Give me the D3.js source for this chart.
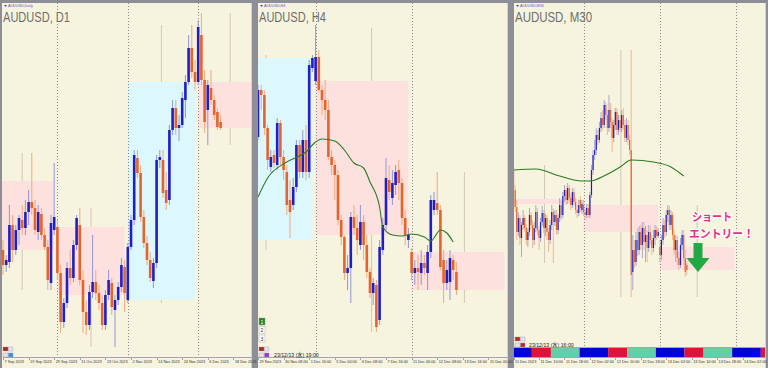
<!DOCTYPE html>
<meta charset="utf-8">
<script src="https://d3js.org/d3.v7.min.js"></script>
<style>
  body { margin: 0; background: #8e8e98; }
  svg { display: block; }
  .axis text { font-family: "Liberation Sans", Arial, sans-serif; font-size: 3.8px; fill: #333; }
  .axis path, .axis line { stroke: #a4a4b0; shape-rendering: crispEdges; }
</style>
<div id="chart"></div>
<script>

// ---------------- data (AUDUSD prices) ----------------

// D1 candles, bar 0 = 7 Sep 2023, [open, high, low, close]
var d1Candles = [
  [0.6470,0.6480,0.6445,0.6455],[0.6455,0.6465,0.6448,0.6460],[0.6458,0.6515,0.6452,0.6495],[0.6495,0.6505,0.6458,0.6470],
  [0.6470,0.6495,0.6465,0.6490],[0.6490,0.6505,0.6475,0.6502],[0.6500,0.6515,0.6485,0.6492],[0.6492,0.6520,0.6485,0.6508],
  [0.6508,0.6530,0.6495,0.6518],[0.6518,0.6567,0.6505,0.6512],[0.6512,0.6520,0.6485,0.6490],[0.6488,0.6515,0.6480,0.6508],
  [0.6506,0.6512,0.6480,0.6485],[0.6485,0.6492,0.6470,0.6473],[0.6473,0.6480,0.6430,0.6440],[0.6437,0.6505,0.6430,0.6497],
  [0.6490,0.6557,0.6485,0.6503],[0.6493,0.6500,0.6440,0.6447],[0.6447,0.6455,0.6387,0.6398],[0.6398,0.6422,0.6392,0.6417],
  [0.6417,0.6458,0.6412,0.6452],[0.6452,0.6470,0.6435,0.6442],[0.6442,0.6480,0.6438,0.6475],[0.6475,0.6505,0.6470,0.6502],
  [0.6495,0.6512,0.6435,0.6440],[0.6440,0.6450,0.6387,0.6408],[0.6408,0.6420,0.6385,0.6395],[0.6395,0.6435,0.6390,0.6428],
  [0.6428,0.6485,0.6422,0.6438],[0.6438,0.6450,0.6420,0.6427],[0.6427,0.6435,0.6410,0.6417],[0.6417,0.6425,0.6390,0.6395],
  [0.6395,0.6430,0.6390,0.6425],[0.6425,0.6450,0.6420,0.6440],[0.6437,0.6442,0.6405,0.6413],[0.6410,0.6425,0.6373,0.6420],
  [0.6420,0.6438,0.6415,0.6433],[0.6433,0.6462,0.6428,0.6455],[0.6453,0.6460,0.6408,0.6427],[0.6420,0.6477,0.6417,0.6473],
  [0.6473,0.6505,0.6470,0.6500],[0.6500,0.6570,0.6495,0.6565],[0.6562,0.6570,0.6542,0.6547],[0.6547,0.6555,0.6498,0.6503],
  [0.6503,0.6510,0.6472,0.6477],[0.6477,0.6484,0.6455,0.6460],[0.6460,0.6468,0.6438,0.6442],[0.6439,0.6462,0.6432,0.6457],
  [0.6457,0.6565,0.6452,0.6560],[0.6560,0.6570,0.6552,0.6563],[0.6560,0.6570,0.6522,0.6527],[0.6530,0.6548,0.6510,0.6517],
  [0.6520,0.6595,0.6515,0.6590],[0.6590,0.6620,0.6585,0.6612],[0.6612,0.6620,0.6585,0.6592],[0.6592,0.6605,0.6579,0.6595],
  [0.6595,0.6628,0.6592,0.6622],[0.6620,0.6645,0.6602,0.6638],[0.6638,0.6685,0.6635,0.6672],[0.6672,0.6695,0.6642,0.6648],
  [0.6648,0.6660,0.6630,0.6638],[0.6638,0.6700,0.6635,0.6693],[0.6685,0.6707,0.6635,0.6640],[0.6640,0.6650,0.6587,0.6598],
  [0.6610,0.6640,0.6575,0.6635],[0.6632,0.6650,0.6615,0.6620],[0.6620,0.6625,0.6600,0.6605],[0.6608,0.6612,0.6590,0.6593],
  [0.6598,0.6605,0.6590,0.6592]
];
var d1LabelBars = [0, 8, 16, 24, 32, 40, 48, 56, 64, 72];
var d1Labels = ["7 Sep 2023", "19 Sep 2023", "29 Sep 2023", "11 Oct 2023", "23 Oct 2023",
                "2 Nov 2023", "14 Nov 2023", "24 Nov 2023", "6 Dec 2023", "18 Dec 2023"];
var d1Separators = [17, 39, 61];
// monthly candles: [firstBar, lastBar, midBar, open, high, low, close]
var d1Boxes = [
  [-4, 16, 6, 0.6539, 0.6567, 0.6430, 0.6470],
  [17, 38, 27.5, 0.6493, 0.6512, 0.6373, 0.6425],
  [39, 60, 49.5, 0.6420, 0.6695, 0.6417, 0.6638],
  [61, 81, 71, 0.6638, 0.6707, 0.6575, 0.6592]
];

// H4 candles, bar 0 = 29 Nov 00:00
var h4Candles = [
  [0.6583,0.6635,0.6580,0.6630],[0.6630,0.6635,0.6610,0.6625],[0.6625,0.6630,0.6585,0.6592],[0.6592,0.6595,0.6550,0.6560],
  [0.6553,0.6570,0.6548,0.6563],[0.6565,0.6570,0.6552,0.6557],[0.6555,0.6602,0.6550,0.6597],[0.6597,0.6600,0.6555,0.6563],
  [0.6563,0.6570,0.6540,0.6550],[0.6548,0.6555,0.6505,0.6515],[0.6520,0.6540,0.6482,0.6508],[0.6515,0.6542,0.6510,0.6533],
  [0.6533,0.6580,0.6528,0.6575],[0.6575,0.6580,0.6542,0.6548],[0.6548,0.6590,0.6542,0.6580],[0.6580,0.6595,0.6540,0.6548],
  [0.6548,0.6660,0.6542,0.6655],[0.6652,0.6665,0.6648,0.6662],[0.6639,0.6695,0.6635,0.6663],[0.6663,0.6670,0.6628,0.6630],
  [0.6630,0.6635,0.6605,0.6620],[0.6620,0.6640,0.6600,0.6610],[0.6610,0.6620,0.6560,0.6563],[0.6563,0.6570,0.6545,0.6555],
  [0.6555,0.6560,0.6520,0.6545],[0.6545,0.6550,0.6495,0.6500],[0.6500,0.6505,0.6475,0.6483],[0.6483,0.6485,0.6440,0.6447],
  [0.6447,0.6465,0.6430,0.6452],[0.6452,0.6508,0.6417,0.6503],[0.6503,0.6515,0.6485,0.6492],[0.6492,0.6505,0.6465,0.6480],
  [0.6475,0.6515,0.6470,0.6498],[0.6498,0.6505,0.6460,0.6475],[0.6475,0.6485,0.6442,0.6448],[0.6448,0.6452,0.6422,0.6427],
  [0.6427,0.6442,0.6415,0.6437],[0.6435,0.6440,0.6388,0.6393],[0.6400,0.6480,0.6395,0.6473],[0.6470,0.6502,0.6465,0.6495],
  [0.6495,0.6562,0.6490,0.6542],[0.6540,0.6555,0.6520,0.6528],[0.6522,0.6550,0.6515,0.6537],[0.6535,0.6555,0.6525,0.6548],
  [0.6550,0.6560,0.6520,0.6537],[0.6537,0.6542,0.6495,0.6502],[0.6502,0.6510,0.6475,0.6485],[0.6480,0.6492,0.6472,0.6485],
  [0.6468,0.6472,0.6440,0.6447],[0.6447,0.6460,0.6435,0.6452],[0.6452,0.6465,0.6430,0.6448],[0.6447,0.6470,0.6435,0.6457],
  [0.6457,0.6465,0.6445,0.6452],[0.6447,0.6475,0.6430,0.6468],[0.6468,0.6525,0.6462,0.6520],[0.6510,0.6528,0.6505,0.6520],
  [0.6517,0.6548,0.6505,0.6510],[0.6510,0.6515,0.6450,0.6453],[0.6460,0.6470,0.6417,0.6437],[0.6437,0.6460,0.6430,0.6450],
  [0.6438,0.6470,0.6420,0.6462],[0.6460,0.6465,0.6440,0.6450],[0.6448,0.6458,0.6425,0.6430]
];
var h4LabelBars = [0, 8, 16, 24, 32, 40, 48, 56, 64, 72];
var h4Labels = ["29 Nov 2023", "30 Nov 08:00", "1 Dec 16:00", "5 Dec 00:00", "6 Dec 08:00",
                "7 Dec 16:00", "11 Dec 00:00", "12 Dec 08:00", "13 Dec 16:00", "15 Dec 00:00"];
var h4Separators = [18, 48];
// weekly candles
var h4Boxes = [
  [-12, 17, 2.5, 0.6480, 0.6665, 0.6470, 0.6662],
  [18, 47, 35.5, 0.6639, 0.6692, 0.6388, 0.6485],
  [48, 77, 64.5, 0.6468, 0.6548, 0.6417, 0.6430]
];
var h4MaBars = [0, 3, 9, 15, 18, 20, 24, 27, 30, 33, 35, 38, 39, 42, 45, 48, 52, 54, 57, 59, 61];
var h4MaValues = [0.6523, 0.6542, 0.6558, 0.6568, 0.6578, 0.6581, 0.6579, 0.6570, 0.6557, 0.6552, 0.6538,
                  0.6513, 0.6493, 0.6485, 0.6484, 0.6486, 0.6483, 0.6479, 0.6490, 0.6487, 0.6478];

// M30 candles, bar 0 = 11 Dec 00:00, first drawn bar = 02:00
var m30FirstBar = 4;
var m30Candles = [
  [0.6552,0.6555,0.6525,0.6530],[0.6530,0.6535,0.6508,0.6513],[0.6513,0.6520,0.6480,0.6488],[0.6488,0.6508,0.6484,0.6502],
  [0.6502,0.6505,0.6475,0.6482],[0.6482,0.6498,0.6463,0.6495],[0.6495,0.6510,0.6490,0.6502],[0.6502,0.6505,0.6488,0.6492],
  [0.6492,0.6496,0.6475,0.6480],[0.6480,0.6492,0.6473,0.6488],[0.6488,0.6512,0.6484,0.6505],[0.6505,0.6508,0.6490,0.6495],
  [0.6495,0.6500,0.6472,0.6480],[0.6480,0.6498,0.6475,0.6492],[0.6492,0.6515,0.6488,0.6508],[0.6508,0.6512,0.6485,0.6490],
  [0.6490,0.6494,0.6470,0.6482],[0.6482,0.6502,0.6478,0.6498],[0.6498,0.6514,0.6494,0.6507],[0.6507,0.6510,0.6487,0.6492],
  [0.6492,0.6506,0.6484,0.6502],[0.6502,0.6505,0.6480,0.6488],[0.6488,0.6492,0.6468,0.6480],[0.6480,0.6500,0.6476,0.6495],
  [0.6495,0.6515,0.6490,0.6508],[0.6508,0.6512,0.6457,0.6498],[0.6498,0.6510,0.6494,0.6505],[0.6505,0.6510,0.6485,0.6490],
  [0.6490,0.6506,0.6486,0.6502],[0.6502,0.6522,0.6498,0.6515],[0.6515,0.6520,0.6500,0.6505],[0.6505,0.6528,0.6502,0.6524],
  [0.6524,0.6535,0.6518,0.6530],[0.6530,0.6534,0.6515,0.6520],[0.6520,0.6537,0.6516,0.6532],[0.6532,0.6535,0.6518,0.6522],
  [0.6522,0.6526,0.6510,0.6515],[0.6515,0.6532,0.6512,0.6528],[0.6528,0.6532,0.6514,0.6518],[0.6518,0.6522,0.6506,0.6510],
  [0.6510,0.6515,0.6502,0.6507],[0.6507,0.6520,0.6504,0.6515],[0.6520,0.6524,0.6508,0.6512],[0.6510,0.6520,0.6506,0.6516],
  [0.6515,0.6520,0.6504,0.6508],[0.6508,0.6512,0.6500,0.6505],[0.6505,0.6516,0.6502,0.6512],[0.6512,0.6516,0.6502,0.6505],
  [0.6505,0.6528,0.6502,0.6525],[0.6525,0.6555,0.6522,0.6550],[0.6550,0.6570,0.6545,0.6565],[0.6565,0.6580,0.6560,0.6570],
  [0.6570,0.6592,0.6565,0.6585],[0.6585,0.6590,0.6575,0.6580],[0.6580,0.6598,0.6577,0.6592],[0.6592,0.6608,0.6588,0.6602],
  [0.6602,0.6610,0.6590,0.6595],[0.6595,0.6620,0.6592,0.6615],[0.6615,0.6618,0.6600,0.6605],[0.6605,0.6610,0.6585,0.6592],
  [0.6592,0.6625,0.6588,0.6610],[0.6610,0.6617,0.6592,0.6598],[0.6598,0.6602,0.6568,0.6582],[0.6582,0.6600,0.6578,0.6595],
  [0.6595,0.6612,0.6590,0.6608],[0.6608,0.6612,0.6585,0.6590],[0.6590,0.6605,0.6585,0.6600],[0.6600,0.6605,0.6588,0.6592],
  [0.6592,0.6610,0.6588,0.6605],[0.6605,0.6612,0.6590,0.6595],[0.6595,0.6600,0.6578,0.6582],[0.6582,0.6602,0.6578,0.6595],
  [0.6595,0.6600,0.6575,0.6580],[0.6580,0.6585,0.6565,0.6570],[0.6570,0.6670,0.6423,0.6445],[0.6448,0.6485,0.6430,0.6470],
  [0.6470,0.6480,0.6452,0.6458],[0.6458,0.6488,0.6454,0.6480],[0.6480,0.6492,0.6464,0.6470],[0.6470,0.6494,0.6465,0.6488],
  [0.6488,0.6495,0.6470,0.6475],[0.6475,0.6498,0.6462,0.6492],[0.6492,0.6498,0.6470,0.6478],[0.6478,0.6494,0.6458,0.6485],
  [0.6485,0.6490,0.6458,0.6472],[0.6472,0.6495,0.6468,0.6488],[0.6488,0.6494,0.6475,0.6480],[0.6480,0.6485,0.6465,0.6472],
  [0.6472,0.6490,0.6468,0.6482],[0.6482,0.6495,0.6475,0.6490],[0.6490,0.6494,0.6480,0.6484],[0.6484,0.6492,0.6482,0.6488],
  [0.6473,0.6480,0.6458,0.6465],[0.6465,0.6485,0.6460,0.6480],[0.6480,0.6502,0.6475,0.6495],[0.6495,0.6500,0.6482,0.6488],
  [0.6488,0.6510,0.6484,0.6505],[0.6505,0.6515,0.6498,0.6510],[0.6510,0.6514,0.6490,0.6495],[0.6495,0.6510,0.6490,0.6505],
  [0.6505,0.6508,0.6480,0.6485],[0.6485,0.6490,0.6465,0.6470],[0.6470,0.6485,0.6458,0.6480],[0.6480,0.6484,0.6455,0.6462],
  [0.6462,0.6468,0.6450,0.6455],[0.6455,0.6482,0.6452,0.6475],[0.6475,0.6490,0.6470,0.6485],[0.6485,0.6490,0.6455,0.6462],
  [0.6462,0.6470,0.6443,0.6448],[0.6455,0.6458,0.6445,0.6450]
];
var m30LabelBars = [4, 20, 36, 52, 68, 84, 100, 116, 132, 148];
var m30Labels = ["11 Dec 2023", "11 Dec 10:00", "11 Dec 18:00", "12 Dec 02:00", "12 Dec 10:00",
                 "12 Dec 18:00", "13 Dec 02:00", "13 Dec 10:00", "13 Dec 18:00", "14 Dec 02:00"];
var m30Separators = [48, 96, 144];
// daily candles
var m30Boxes = [
  [0, 47, 23.5, 0.6521, 0.6555, 0.6457, 0.6516],
  [48, 95, 71.5, 0.6515, 0.6670, 0.6423, 0.6488],
  [96, 143, 119.5, 0.6473, 0.6515, 0.6423, 0.6450]
];
var m30MaBars = [4, 18, 33, 47, 52, 62, 71, 78, 92, 103, 111];
var m30MaValues = [0.6550, 0.6551, 0.6544, 0.6539, 0.6539, 0.6545, 0.6553, 0.6560, 0.6558, 0.6553, 0.6544];

// market sessions (server hours) for each day start bar
var sessionDays = [0, 48, 96, 144];
var sessionNames = ["Tokyo", "London", "NewYork"];
var sessionHours = [[-1, 8], [8, 14], [14, 23]];

// annotation
var entryNote = { bar: 120, top: 0.6477, tip: 0.6448, lines: ["ショート", "エントリー！"] };

// ---------------- drawing ----------------

var width = 768, height = 368, plotTop = 3, axisY = 357;
var upBody = "#1f1fc8", downBody = "#e6632b", upWick = "#9494d6", downWick = "#f0a97c";
var sessionColors = ["#0000dd", "#dc143c", "#66cdaa"];

var svg = d3.select("#chart").append("svg")
  .attr("width", width)
  .attr("height", height);

svg.append("rect")
  .attr("width", width).attr("height", height)
  .attr("fill", "#8e8e98");

var y = d3.scaleLinear().domain([0.6352, 0.6720]).range([height, 0]);

var panels = [
  { name: "d1", left: 2, right: 252, x0: 3, step: 3.2, first: 0, bodyW: 2.6,
    candles: d1Candles, boxes: d1Boxes, seps: d1Separators, labelBars: d1LabelBars, labels: d1Labels,
    header: "AUDUSD,Daily", title: "AUDUSD, D1", titleW: 67 },
  { name: "h4", left: 258, right: 508, x0: 258, step: 3.2, first: 0, bodyW: 2.6,
    candles: h4Candles, boxes: h4Boxes, seps: h4Separators, labelBars: h4LabelBars, labels: h4Labels,
    maBars: h4MaBars, maValues: h4MaValues,
    header: "AUDUSD,H4", title: "AUDUSD, H4", titleW: 67, stamp: "23/12/13 (水) 19:00" },
  { name: "m30", left: 514, right: 766, x0: 507.2, step: 1.59, first: m30FirstBar, bodyW: 1.2,
    candles: m30Candles, boxes: m30Boxes, seps: m30Separators, labelBars: m30LabelBars, labels: m30Labels,
    maBars: m30MaBars, maValues: m30MaValues,
    header: "AUDUSD,M30", title: "AUDUSD, M30", titleW: 77, stamp: "23/12/13 (水) 16:00" }
];

panels.forEach(drawPanel);

function drawPanel(p) {
  var x = d3.scaleLinear()
    .domain([(p.left - p.x0) / p.step, (p.right - p.x0) / p.step])
    .range([p.left, p.right]);
  p.x = x;

  var g = svg.append("g");
  g.append("rect")
    .attr("x", p.left).attr("y", plotTop)
    .attr("width", p.right - p.left).attr("height", height - plotTop)
    .attr("fill", "#f6f4de");
  g.append("line")
    .attr("x1", p.right - 0.5).attr("x2", p.right - 0.5)
    .attr("y1", plotTop).attr("y2", height)
    .attr("stroke", "#d2d2de");

  svg.append("clipPath").attr("id", "clip-" + p.name)
    .append("rect")
    .attr("x", p.left).attr("y", plotTop)
    .attr("width", p.right - p.left - 1).attr("height", axisY - plotTop);
  var plot = g.append("g").attr("clip-path", "url(#clip-" + p.name + ")");

  // period high-low line, then period open-close box
  plot.selectAll(".pwick").data(p.boxes).enter().append("line")
    .attr("x1", function(d) { return x(d[2]); })
    .attr("x2", function(d) { return x(d[2]); })
    .attr("y1", function(d) { return y(d[4]); })
    .attr("y2", function(d) { return y(d[5]); })
    .attr("stroke", "#cfc7b8")
    .attr("stroke-width", 1);
  plot.selectAll(".pbox").data(p.boxes).enter().append("rect")
    .attr("x", function(d) { return x(d[0]); })
    .attr("width", function(d) { return x(d[1]) - x(d[0]); })
    .attr("y", function(d) { return y(Math.max(d[3], d[6])); })
    .attr("height", function(d) { return Math.abs(y(d[3]) - y(d[6])); })
    .attr("fill", function(d) { return d[6] > d[3] ? "#dcf8fc" : "#fde1de"; });

  // period separators
  plot.selectAll(".sep").data(p.seps).enter().append("line")
    .attr("x1", function(d) { return Math.round(x(d)) + 0.5; })
    .attr("x2", function(d) { return Math.round(x(d)) + 0.5; })
    .attr("y1", plotTop).attr("y2", axisY)
    .attr("stroke", "#8c8c8c")
    .attr("stroke-dasharray", "1,2");

  // candles
  var bars = plot.selectAll(".bar").data(p.candles).enter().append("g");
  bars.append("line")
    .attr("x1", function(d, i) { return x(p.first + i); })
    .attr("x2", function(d, i) { return x(p.first + i); })
    .attr("y1", function(d) { return y(d[1]); })
    .attr("y2", function(d) { return y(d[2]); })
    .attr("stroke", function(d) { return d[3] >= d[0] ? upWick : downWick; })
    .attr("stroke-width", p.bodyW > 2 ? 1 : 0.8);
  bars.append("rect")
    .attr("x", function(d, i) { return x(p.first + i) - p.bodyW / 2; })
    .attr("width", p.bodyW)
    .attr("y", function(d) { return y(Math.max(d[0], d[3])); })
    .attr("height", function(d) { return Math.max(1, Math.abs(y(d[0]) - y(d[3]))); })
    .attr("fill", function(d) { return d[3] >= d[0] ? upBody : downBody; });

  // moving average
  if (p.maBars) {
    var maLine = d3.line()
      .x(function(d) { return x(d[0]); })
      .y(function(d) { return y(d[1]); })
      .curve(d3.curveMonotoneX);
    plot.append("path")
      .datum(d3.zip(p.maBars, p.maValues))
      .attr("d", maLine)
      .attr("fill", "none")
      .attr("stroke", "#2b7a22")
      .attr("stroke-width", 1.1);
  }

  // time axis
  var axis = g.append("g")
    .attr("class", "axis")
    .attr("transform", "translate(0," + axisY + ")")
    .call(d3.axisBottom(x)
      .tickValues(p.labelBars)
      .tickFormat(function(d, i) { return p.labels[i]; })
      .tickSize(2.5)
      .tickSizeOuter(0));
  axis.selectAll("text")
    .attr("text-anchor", "start")
    .attr("x", 1)
    .attr("y", 3.2)
    .attr("dy", "0.71em");

  // titles
  g.append("path")
    .attr("d", "M" + (p.left + 2) + ",5 h3 l-1.5,2 z")
    .attr("fill", "#4a4ab0");
  g.append("text")
    .attr("x", p.left + 6).attr("y", 7.3)
    .style("font-family", "Liberation Sans, Arial, sans-serif")
    .style("font-size", "3.7px")
    .style("fill", "#5555bb")
    .text(p.header);
  g.append("text")
    .attr("x", p.left + 1).attr("y", 21.7)
    .attr("textLength", p.titleW)
    .attr("lengthAdjust", "spacingAndGlyphs")
    .style("font-family", "Liberation Sans Narrow, Liberation Sans, Arial, sans-serif")
    .style("font-size", "15px")
    .style("fill", "#6e6e6e")
    .text(p.title);
}

// ---- small terminal buttons ----
function button(px, py, w, h, fill, label, txt) {
  svg.append("rect").attr("x", px).attr("y", py).attr("width", w).attr("height", h)
    .attr("fill", fill).attr("stroke", "#9a9aa8").attr("stroke-width", 0.4);
  if (label) {
    svg.append("text").attr("x", px + w / 2).attr("y", py + h - 1.4)
      .attr("text-anchor", "middle")
      .style("font-family", "Liberation Sans, Arial, sans-serif")
      .style("font-size", "5px").style("fill", txt || "#333").text(label);
  }
}
// D1
button(3, 347, 5, 4, "#a82828"); button(8.5, 347, 4.5, 4, "#e4e4e8");
button(3, 353, 5, 4, "#e4e4e8"); button(8.5, 353, 4.5, 4, "#3c8ee4");
// H4
button(259, 318, 6, 7, "#1f8a2a", "1", "#fff");
button(259, 326.5, 6, 7, "#ffffff", "2");
button(259, 335, 6, 7, "#ffffff", "3");
button(259, 347, 5, 4, "#a82828"); button(264.5, 347, 4.5, 4, "#e4e4e8");
button(259, 353, 5, 4, "#e4e4e8"); button(264.5, 353, 4.5, 4, "#9a2ee0");
// M30
button(515, 337, 5, 4, "#c02828"); button(520.5, 337, 4.5, 4, "#e4e4e8");
button(515, 343, 5, 4, "#e4e4e8"); button(520.5, 343, 4.5, 4, "#c02828");

// time stamps
svg.append("text").attr("x", 274).attr("y", 356.8)
  .style("font-family", "Liberation Sans, Noto Sans CJK JP, sans-serif")
  .style("font-size", "5.2px").style("fill", "#222")
  .text(panels[1].stamp);
svg.append("text").attr("x", 529).attr("y", 347)
  .style("font-family", "Liberation Sans, Noto Sans CJK JP, sans-serif")
  .style("font-size", "5.2px").style("fill", "#222")
  .text(panels[2].stamp);

// ---- session bar on M30 ----
var m30 = panels[2];
var sessionCells = [];
sessionDays.forEach(function(day) {
  sessionHours.forEach(function(h, k) {
    sessionCells.push({ from: day + h[0] * 2 - 0.5, to: day + h[1] * 2 - 0.5, k: k });
  });
});
svg.append("g")
  .attr("clip-path", "url(#clip-m30)")
  .selectAll("rect").data(sessionCells).enter().append("rect")
  .attr("x", function(d) { return m30.x(d.from); })
  .attr("width", function(d) { return m30.x(d.to) - m30.x(d.from); })
  .attr("y", 348).attr("height", 9)
  .attr("fill", function(d) { return sessionColors[d.k]; });
svg.append("line")
  .attr("x1", m30.left).attr("x2", m30.right - 1)
  .attr("y1", 347.5).attr("y2", 347.5)
  .attr("stroke", "#7b8fe0").attr("stroke-width", 0.8);

// ---- entry annotation ----
var cx = m30.x(entryNote.bar), yt = y(entryNote.top), yb = y(entryNote.tip), yh = yb - 14;
svg.append("path")
  .attr("d", "M" + (cx - 4.5) + "," + yt + " H" + (cx + 4.5) + " V" + yh + " H" + (cx + 11.5) +
             " L" + cx + "," + yb + " L" + (cx - 11.5) + "," + yh + " H" + (cx - 4.5) + " Z")
  .attr("fill", "#22a845");
var noteText = svg.append("g")
  .style("font-family", "Noto Sans CJK JP, sans-serif")
  .style("font-weight", "bold")
  .style("font-size", "11.5px")
  .style("fill", "#e6307e")
  .style("stroke", "#ffffff")
  .style("stroke-width", "2.4px")
  .style("paint-order", "stroke")
  .style("stroke-linejoin", "round");
noteText.append("text").attr("x", cx - 6).attr("y", yt - 22)
  .attr("textLength", 40).attr("lengthAdjust", "spacingAndGlyphs")
  .text(entryNote.lines[0]);
noteText.append("text").attr("x", cx - 9).attr("y", yt - 5)
  .attr("textLength", 65).attr("lengthAdjust", "spacingAndGlyphs")
  .text(entryNote.lines[1]);

</script>
